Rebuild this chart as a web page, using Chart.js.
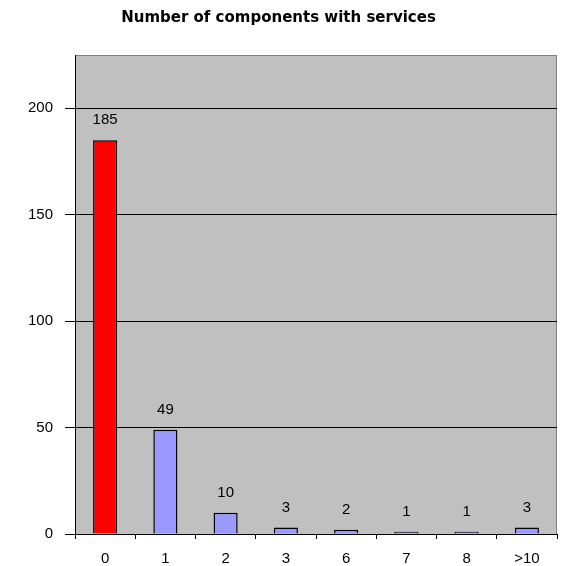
<!DOCTYPE html>
<html>
<head>
<meta charset="utf-8">
<script src="https://cdn.jsdelivr.net/npm/chart.js@4"></script>
<style>
  body { margin: 0; background: #fff; }
</style>
</head>
<body>
<canvas id="servicesChart" width="561" height="566"></canvas>
<script>
const categories = ['0', '1', '2', '3', '6', '7', '8', '>10'];
const componentCounts = [185, 49, 10, 3, 2, 1, 1, 3];
const barColors = ['#ff0000', '#9999ff', '#9999ff', '#9999ff', '#9999ff', '#9999ff', '#9999ff', '#9999ff'];
const yTicks = [0, 50, 100, 150, 200];

// grey plot background + grey frame on top/right
const plotBackground = {
    id: 'plotBackground',
    beforeDraw(chart) {
        const { ctx, chartArea: a } = chart;
        ctx.save();
        ctx.fillStyle = '#c0c0c0';
        ctx.fillRect(a.left, a.top, a.right - a.left, a.bottom - a.top);
        ctx.strokeStyle = '#808080';
        ctx.lineWidth = 1;
        ctx.beginPath();
        ctx.moveTo(a.left, a.top + 0.5);
        ctx.lineTo(a.right - 0.5, a.top + 0.5);
        ctx.lineTo(a.right - 0.5, a.bottom);
        ctx.stroke();
        ctx.restore();
    }
};

// value labels above each bar
const valueLabels = {
    id: 'valueLabels',
    afterDatasetsDraw(chart) {
        const { ctx } = chart;
        const meta = chart.getDatasetMeta(0);
        ctx.save();
        ctx.font = '15px "Liberation Sans", Arial, sans-serif';
        ctx.fillStyle = '#000';
        ctx.textAlign = 'center';
        ctx.textBaseline = 'middle';
        meta.data.forEach((bar, i) => {
            ctx.fillText(componentCounts[i], bar.x, bar.y - 20);
        });
        ctx.restore();
    }
};

new Chart(document.getElementById('servicesChart').getContext('2d'), {
    type: 'bar',
    data: {
        labels: categories,
        datasets: [{
            data: componentCounts,
            backgroundColor: barColors,
            borderColor: '#000',
            borderWidth: 1.5,
            borderSkipped: 'bottom',
            categoryPercentage: 1,
            barPercentage: 0.4
        }]
    },
    options: {
        responsive: false,
        animation: false,
        layout: { padding: { left: 0, right: 4, bottom: 0 } },
        plugins: {
            legend: { display: false },
            tooltip: { enabled: false },
            title: {
                display: true,
                text: 'Number of components with services',
                color: '#000',
                font: { family: '"DejaVu Sans", Verdana, sans-serif', size: 15, weight: 'bold' },
                padding: { top: 9, bottom: 28 }
            }
        },
        scales: {
            x: {
                offset: true,
                grid: { offset: true, drawOnChartArea: false, color: '#000', tickLength: 5 },
                border: { color: '#000' },
                ticks: {
                    color: '#000', padding: 11,
                    font: { family: '"Liberation Sans", Arial, sans-serif', size: 15 }
                },
                afterFit(scale) { scale.height = 32; }
            },
            y: {
                min: 0,
                max: 225,
                grid: { color: '#000', tickLength: 10 },
                border: { color: '#000' },
                ticks: {
                    color: '#000', padding: 12, stepSize: 50,
                    font: { family: '"Liberation Sans", Arial, sans-serif', size: 15 }
                },
                afterBuildTicks(scale) {
                    scale.ticks = yTicks.map(v => ({ value: v }));
                },
                afterFit(scale) { scale.width = 75; }
            }
        }
    },
    plugins: [plotBackground, valueLabels]
});
</script>
</body>
</html>
